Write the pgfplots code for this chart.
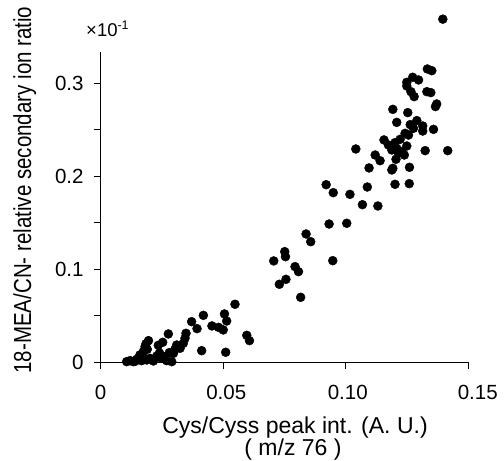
\documentclass[border=0pt]{standalone}
\usepackage{fontspec}
\setmainfont{Liberation Sans}
\usepackage{graphicx}
\usepackage{pgfplots}
\pgfplotsset{compat=1.18}
\begin{document}
\begin{tikzpicture}
\begin{axis}[
  name=ax,
  scale only axis,
  width=367.6pt, height=310.6pt,
  xmin=0, xmax=0.15, ymin=0, ymax=0.334,
  axis x line=bottom, axis y line=left,
  axis line style={-, line width=1pt, black},
  clip=false,
  tick align=outside,
  major tick length=7pt, minor tick length=7pt,
  tick style={line width=1pt, black},
  xtick={0,0.05,0.1,0.15},
  xticklabels={0,\hspace*{6pt}0.05,\hspace*{4pt}0.10,\hspace*{19pt}0.15},
  ytick={0,0.1,0.2,0.3},
  yticklabels={0,0.1,0.2,0.3},
  minor ytick={0.05,0.15,0.25},
  x tick label style={font=\fontsize{20.5}{23}\selectfont, inner sep=0pt, anchor=north, yshift=-16pt},
  y tick label style={font=\fontsize{20.5}{23}\selectfont, inner sep=0pt, anchor=east, xshift=-10pt},
  /pgf/number format/assume math mode=true,
]
\addplot[only marks, mark=*, mark size=4.5pt, black] table {
x y
0.1396 0.369
0.1333 0.3154
0.1351 0.3136
0.1273 0.3065
0.1297 0.3036
0.1249 0.3011
0.1249 0.2971
0.1266 0.291
0.1279 0.2857
0.1331 0.291
0.1347 0.290
0.1371 0.2778
0.1366 0.275
0.1192 0.272
0.1253 0.2685
0.1208 0.258
0.129 0.2599
0.1263 0.2556
0.1276 0.2516
0.1314 0.2541
0.1314 0.2487
0.1358 0.2505
0.1256 0.2444
0.1242 0.2462
0.1156 0.2391
0.1174 0.2337
0.1201 0.2362
0.1222 0.2398
0.1188 0.2283
0.1208 0.2301
0.1249 0.2326
0.1228 0.2265
0.1239 0.2229
0.1205 0.2183
0.1215 0.2250
0.1195 0.2320
0.1324 0.2276
0.1416 0.2276
0.1041 0.2294
0.1120 0.2229
0.1140 0.2168
0.1095 0.209
0.1192 0.2086
0.1188 0.2068
0.1260 0.2097
0.1201 0.1914
0.1259 0.1921
0.0920 0.191
0.0949 0.1824
0.1017 0.1806
0.1088 0.1885
0.1068 0.1695
0.1131 0.1681
0.0932 0.1487
0.1004 0.1495
0.0838 0.138
0.0857 0.1297
0.0751 0.119
0.0754 0.1136
0.0706 0.109
0.0947 0.1093
0.0793 0.1029
0.0807 0.0975
0.0756 0.0892
0.0729 0.0839
0.0816 0.0699
0.0548 0.0624
0.0505 0.052
0.0514 0.0444
0.0419 0.0505
0.0371 0.0437
0.0393 0.0362
0.0454 0.0391
0.0481 0.0376
0.0500 0.0348
0.0596 0.029
0.0607 0.0233
0.0412 0.0125
0.0510 0.0108
0.0276 0.0305
0.0348 0.0312
0.0344 0.0258
0.0337 0.0204
0.0324 0.0151
0.0303 0.014
0.0297 0.0097
0.0280 0.0104
0.0195 0.0233
0.0181 0.0168
0.0174 0.0115
0.0160 0.0079
0.0235 0.0183
0.0253 0.0215
0.0229 0.0068
0.0249 0.0043
0.0201 0.0043
0.0147 0.0032
0.0120 0.0018
0.0106 0.0007
0.0133 0.0007
0.0167 0.0018
0.0188 0.0025
0.0215 0.0014
0.0269 0.0018
0.0290 0.0007
0.0190 0.014
0.0310 0.0186
0.0185 0.0200
0.0170 0.0060
0.0240 0.0100
0.0260 0.0060
0.0140 0.0010
};
\end{axis}
\node[anchor=base, font=\fontsize{23}{27}\selectfont] at ([xshift=194.3pt, yshift=-70.7pt]ax.south west) {Cys/Cyss peak int. (A. U.)};
\node[anchor=base, font=\fontsize{23}{27}\selectfont] at ([xshift=192.3pt, yshift=-93.5pt]ax.south west) {( m/z 76 )};
\node[anchor=base, rotate=90, font=\fontsize{20.5}{24}\selectfont] at ([xshift=-69.5pt, yshift=172.3pt]ax.south west) {\scalebox{1}[1.2]{18-MEA/CN- relative secondary ion ratio}};
\node[anchor=base west, inner sep=0pt, font=\fontsize{18.5}{22}\selectfont] at ([xshift=-14.7pt, yshift=325.3pt]ax.south west) {×10\raisebox{0.42em}{\fontsize{12.5}{14}\selectfont -1}};
\pgfresetboundingbox
\path ([xshift=-100.7pt,yshift=-98.7pt]ax.south west) rectangle ([xshift=35.7pt,yshift=51.7pt]ax.north east);
\end{tikzpicture}
\end{document}
